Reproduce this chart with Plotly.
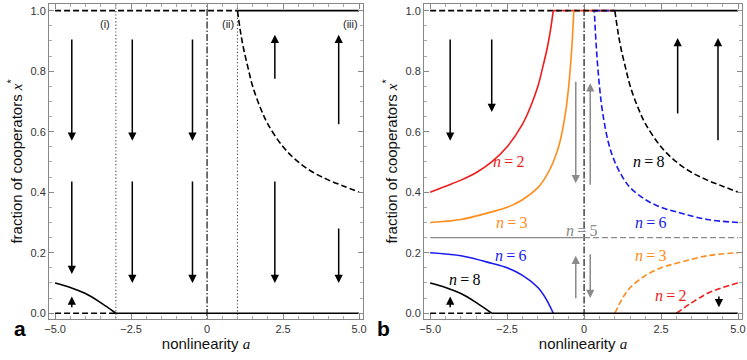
import plotly.graph_objects as go

# ---------------- data ----------------
# n=8 branch (panel a and b), unstable upper (dashed) and stable lower (solid)
n8_up_a = [1.0, 1.1, 1.2, 1.35, 1.5, 1.75, 2.0, 2.5, 3.0, 3.5, 4.0, 4.5, 5.0]
n8_up_x = [1.0, 0.93, 0.875, 0.81, 0.75, 0.68, 0.625, 0.55, 0.50, 0.465, 0.44, 0.42, 0.40]
n8_lo_a = [-5.0, -4.5, -4.0, -3.5, -3.0]
n8_lo_x = [0.10, 0.085, 0.065, 0.035, 0.0]
# n=2
n2_up_a = [-1.0, -1.1, -1.2, -1.35, -1.5, -1.75, -2.0, -2.5, -3.0, -3.5, -4.0, -4.5, -5.0]
n2_up_x = [1.0, 0.93, 0.875, 0.81, 0.75, 0.68, 0.625, 0.55, 0.50, 0.465, 0.44, 0.42, 0.40]
n2_lo_a = [3.0, 3.5, 4.0, 4.5, 5.0]
n2_lo_x = [0.0, 0.035, 0.065, 0.085, 0.10]
# n=3
n3_up_a = [-5.0, -4.0, -3.0, -2.5, -2.0, -1.5, -1.25, -1.0, -0.8, -0.6, -0.5, -0.4, -0.333]
n3_up_x = [0.30, 0.31, 0.335, 0.35, 0.375, 0.415, 0.45, 0.50, 0.56, 0.665, 0.75, 0.875, 1.0]
n3_lo_a = [1.0, 1.25, 1.5, 2.0, 2.5, 3.0, 4.0, 5.0]
n3_lo_x = [0.0, 0.05, 0.085, 0.125, 0.15, 0.165, 0.19, 0.20]
# n=6
n6_up_a = [5.0, 4.0, 3.0, 2.5, 2.0, 1.5, 1.25, 1.0, 0.8, 0.6, 0.5, 0.4, 0.333]
n6_up_x = [0.30, 0.31, 0.335, 0.35, 0.375, 0.415, 0.45, 0.50, 0.56, 0.665, 0.75, 0.875, 1.0]
n6_lo_a = [-5.0, -4.0, -3.0, -2.5, -2.0, -1.5, -1.25, -1.0]
n6_lo_x = [0.20, 0.19, 0.165, 0.15, 0.125, 0.085, 0.05, 0.0]
# n=5
n5_level = 0.25

tick_vals = [-5, -2.5, 0, 2.5, 5]
tick_text = ["\u22125.0", "\u22122.5", "0", "2.5", "5.0"]
ytick_vals = [0, 0.2, 0.4, 0.6, 0.8, 1.0]
ytick_text = ["0.0", "0.2", "0.4", "0.6", "0.8", "1.0"]

RED = "#ee1c1c"
ORANGE = "#ff8c1a"
BLUE = "#1a1aee"
GRAY = "#8a8a8a"
BLACK = "#000000"
DASH = "6px,3px"
DASHDOT = "7px,2px,1.5px,2px"
DOT = "1.2px,2.2px"

fig = go.Figure()

def line(xs, ys, color, dash="solid", width=1.6, ax="x", ay="y", shape="spline"):
    fig.add_trace(go.Scatter(x=xs, y=ys, mode="lines", xaxis=ax, yaxis=ay,
                             line=dict(color=color, dash=dash, width=width, shape=shape),
                             showlegend=False, hoverinfo="skip"))

# ---------------- panel a ----------------
line([-3, -3], [-0.05, 1.05], "#444", DOT, 1.1, shape="linear")
line([1, 1], [-0.05, 1.05], "#444", DOT, 1.1, shape="linear")
line([0, 0], [-0.05, 1.05], BLACK, DASHDOT, 1.1, shape="linear")
line([-5, 1], [1, 1], BLACK, DASH, 1.6, shape="linear")
line([1, 5], [1, 1], BLACK, "solid", 1.6, shape="linear")
line([-5, -3], [0, 0], BLACK, DASH, 1.6, shape="linear")
line([-3, 5], [0, 0], BLACK, "solid", 1.6, shape="linear")
line(n8_up_a, n8_up_x, BLACK, DASH, 1.6)
line(n8_lo_a, n8_lo_x, BLACK, "solid", 1.6)

# ---------------- panel b ----------------
X2, Y2 = "x2", "y2"
line([0, 0], [-0.05, 1.05], BLACK, DASHDOT, 1.1, X2, Y2, "linear")
line([-1, 1], [1, 1], RED, DASH, 1.6, X2, Y2, "linear")
line([-0.333, 1], [1, 1], ORANGE, DASH, 1.6, X2, Y2, "linear")
line([0.333, 1], [1, 1], BLUE, DASH, 1.6, X2, Y2, "linear")
line([-5, 1], [1, 1], BLACK, DASH, 1.6, X2, Y2, "linear")
line([1, 5], [1, 1], BLACK, "solid", 1.6, X2, Y2, "linear")
line([-5, 0], [n5_level, n5_level], GRAY, "solid", 1.4, X2, Y2, "linear")
line([0, 5], [n5_level, n5_level], GRAY, DASH, 1.4, X2, Y2, "linear")
line(n2_up_a, n2_up_x, RED, "solid", 1.6, X2, Y2)
line(n2_lo_a, n2_lo_x, RED, DASH, 1.6, X2, Y2)
line(n3_up_a, n3_up_x, ORANGE, "solid", 1.6, X2, Y2)
line(n3_lo_a, n3_lo_x, ORANGE, DASH, 1.6, X2, Y2)
line(n6_up_a, n6_up_x, BLUE, DASH, 1.6, X2, Y2)
line(n6_lo_a, n6_lo_x, BLUE, "solid", 1.6, X2, Y2)
line([-5, -3], [0, 0], BLACK, DASH, 1.6, X2, Y2, "linear")
line([-3, 5], [0, 0], BLACK, "solid", 1.6, X2, Y2, "linear")
line(n8_up_a, n8_up_x, BLACK, DASH, 1.6, X2, Y2)
line(n8_lo_a, n8_lo_x, BLACK, "solid", 1.6, X2, Y2)

# ---------------- arrows ----------------
arrows_a = [  # (a, tail, tip)
    (-4.45, 0.91, 0.57), (-2.46, 0.91, 0.57), (-0.48, 0.91, 0.57),
    (-4.45, 0.44, 0.13), (-2.46, 0.44, 0.10), (-0.48, 0.44, 0.10),
    (2.23, 0.77, 0.92), (4.33, 0.62, 0.92),
    (2.23, 0.44, 0.10), (4.33, 0.285, 0.10),
    (-4.45, 0.015, 0.055),
]
arrows_b = [  # (a, tail, tip, color)
    (-4.35, 0.91, 0.57, BLACK), (-3.0, 0.91, 0.665, BLACK),
    (3.04, 0.655, 0.91, BLACK), (4.35, 0.567, 0.91, BLACK),
    (-0.27, 0.77, 0.43, GRAY), (0.2, 0.42, 0.76, GRAY),
    (-0.27, 0.045, 0.19, GRAY), (0.2, 0.20, 0.05, GRAY),
    (-4.35, 0.015, 0.055, BLACK), (4.38, 0.06, 0.02, BLACK),
]
ann = []
for a, t0, t1 in arrows_a:
    ann.append(dict(x=a, y=t1, ax=a, ay=t0, xref="x", yref="y", axref="x", ayref="y",
                    showarrow=True, arrowhead=2, arrowsize=1.1, arrowwidth=1.5,
                    arrowcolor=BLACK, text=""))
for a, t0, t1, c in arrows_b:
    ann.append(dict(x=a, y=t1, ax=a, ay=t0, xref="x2", yref="y2", axref="x2", ayref="y2",
                    showarrow=True, arrowhead=2, arrowsize=1.1, arrowwidth=1.5,
                    arrowcolor=c, text=""))

# roman labels panel a
for txt, a in [("(i)", -3.35), ("(ii)", 0.7), ("(iii)", 4.73)]:
    ann.append(dict(x=a, y=0.955, xref="x", yref="y", text=txt, showarrow=False,
                    font=dict(family="Liberation Sans", size=11, color="#222")))

# n labels panel b
SERIF = "Liberation Serif"
for txt, a, y, c in [("2", -2.45, 0.50, RED), ("8", 2.1, 0.50, BLACK),
                     ("3", -2.35, 0.30, ORANGE), ("6", 2.15, 0.30, BLUE),
                     ("5", -0.1, 0.272, GRAY), ("6", -2.4, 0.19, BLUE),
                     ("3", 2.15, 0.19, ORANGE), ("8", -3.9, 0.11, BLACK),
                     ("2", 2.8, 0.06, RED)]:
    ann.append(dict(x=a, y=y, xref="x2", yref="y2", text="<i>n</i>\u2009=\u2009" + txt,
                    showarrow=False, font=dict(family=SERIF, size=16, color=c)))

# panel letters
ann.append(dict(x=12 / 747, y=1 - 342 / 360, xref="paper", yref="paper", text="<b>a</b>",
                showarrow=False, font=dict(family="Liberation Sans", size=21, color=BLACK)))
ann.append(dict(x=383 / 747, y=1 - 342 / 360, xref="paper", yref="paper", text="<b>b</b>",
                showarrow=False, font=dict(family="Liberation Sans", size=21, color=BLACK)))

xtitle = "nonlinearity <span style=\"font-family:'Liberation Serif'\"><i>a</i></span>"
ytitle = "fraction of cooperators <span style=\"font-family:'Liberation Serif'\"><i>x</i></span><sup>*</sup>"

common_x = dict(range=[-5.2, 5.13], tickvals=tick_vals, ticktext=tick_text, ticks="inside",
                ticklen=5, tickwidth=1, tickcolor="#888", showline=True, linecolor="#888",
                linewidth=1, mirror="allticks", showgrid=False, zeroline=False, automargin=False,
                minor=dict(dtick=0.5, ticklen=3, tickcolor="#aaa", ticks="inside"),
                tickfont=dict(family="Liberation Sans", size=11, color="#333"),
                title=dict(text=xtitle, font=dict(family="Liberation Sans", size=15, color="#111"),
                           standoff=2))
common_y = dict(range=[-0.019, 1.022], tickvals=ytick_vals, ticktext=ytick_text, ticks="inside",
                ticklen=5, tickwidth=1, tickcolor="#888", showline=True, linecolor="#888",
                linewidth=1, mirror="allticks", showgrid=False, zeroline=False, automargin=False,
                minor=dict(dtick=0.05, ticklen=3, tickcolor="#aaa", ticks="inside"),
                tickfont=dict(family="Liberation Sans", size=11, color="#333"),
                title=dict(text=ytitle, font=dict(family="Liberation Sans", size=15, color="#111"),
                           standoff=4))

fig.update_layout(
    width=747, height=360, margin=dict(l=0, r=0, t=0, b=0, autoexpand=False),
    paper_bgcolor="white", plot_bgcolor="white",
    xaxis=dict(domain=[49 / 747, 363 / 747], anchor="y", **common_x),
    yaxis=dict(domain=[1 - 319 / 360, 1 - 4 / 360], anchor="x", **common_y),
    xaxis2=dict(domain=[424 / 747, 742 / 747], anchor="y2", **common_x),
    yaxis2=dict(domain=[1 - 319 / 360, 1 - 4 / 360], anchor="x2", **common_y),
    annotations=ann,
)

fig.write_html("out.html", config={"displayModeBar": False},
               post_script="document.body.style.margin='0px';document.body.style.overflow='hidden';")
